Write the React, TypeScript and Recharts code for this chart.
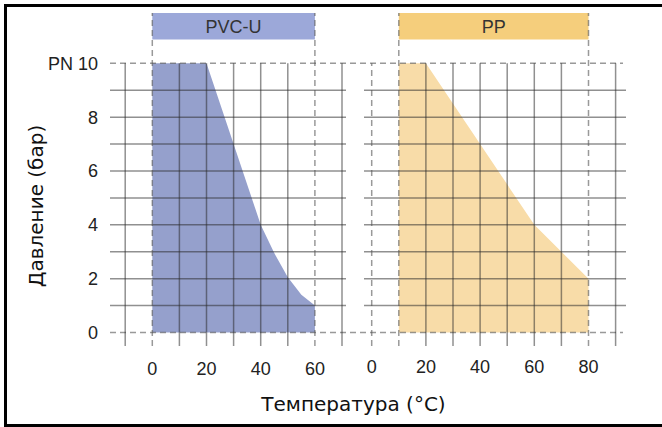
import { Area, ComposedChart, ReferenceArea, ReferenceLine, XAxis, YAxis } from "recharts";

// pressure vs temperature envelopes
const pvcTemps = [0, 20, 30, 40, 45, 50, 55, 60];
const pvcPressure = [10, 10, 7, 4, 2.95, 2.05, 1.4, 1];
const ppTemps = [10, 20, 40, 60, 70, 80];
const ppPressure = [10, 10, 7, 4, 3, 2];

const pressureTicks = [0, 2, 4, 6, 8, 10];
const gridRows = [1, 2, 3, 4, 5, 6, 7, 8, 9];
const pvcTicks = [0, 20, 40, 60];
const ppTicks = [0, 20, 40, 60, 80];
const pvcGridCols = [-10, 10, 20, 30, 40, 50, 70];
const ppGridCols = [20, 30, 40, 50, 60, 70, 90];
const ppZeroCol = [0];

const pvcData = pvcTemps.map((t, i) => ({ t, p: pvcPressure[i] }));
const ppData = ppTemps.map((t, i) => ({ t, p: ppPressure[i] }));

// layout (px)
const W = 662;
const H = 427;
const PLOT_L = 110;
const PLOT_R = 626;
const PLOT_T = 13;
const PLOT_B = 346;
const AXIS_H = 1;
const X_UNIT = 2.71;
const PVC_ZERO = 152.3;
const PP_ZERO = 371.7;
const Y_UNIT = 26.92;
const Y_ZERO = 332.5;

const pvcDomain = [(PLOT_L - PVC_ZERO) / X_UNIT, (PLOT_R - PVC_ZERO) / X_UNIT];
const ppDomain = [(PLOT_L - PP_ZERO) / X_UNIT, (PLOT_R - PP_ZERO) / X_UNIT];
const Y_MIN = -(PLOT_B - Y_ZERO) / Y_UNIT;
const Y_MAX = (Y_ZERO - PLOT_T) / Y_UNIT;
const HEADER_BOTTOM = (Y_ZERO - 39.5) / Y_UNIT;
const PVC_ROW_END = (346 - PVC_ZERO) / X_UNIT;
const PP_ROW_START = (364 - PP_ZERO) / X_UNIT;
const DASH_END = (623 - PP_ZERO) / X_UNIT;

const TOP = 10;
const SOLID = { stroke: "#2a2a2a", strokeOpacity: 0.52, strokeWidth: 1.5 };
const DASHED = { stroke: "#555", strokeOpacity: 0.6, strokeWidth: 1.5, strokeDasharray: "6 4" };

const tickFont = { fill: "#222", fontSize: 18, fontFamily: "'Liberation Sans', Arial, sans-serif" };
const titleFont = "'DejaVu Sans', Verdana, sans-serif";

export default function App() {
  const pvcFirst = pvcTemps[0];
  const pvcLast = pvcTemps[pvcTemps.length - 1];
  const ppFirst = ppTemps[0];
  const ppLast = ppTemps[ppTemps.length - 1];

  const vline = (axis: string, t: number, top: number, style: object, key: string) => (
    <ReferenceLine
      key={key}
      xAxisId={axis}
      segment={[
        { x: t, y: Y_MIN },
        { x: t, y: top },
      ]}
      ifOverflow="visible"
      {...style}
    />
  );

  return (
    <div
      style={{
        position: "absolute",
        left: 0,
        top: 0,
        width: W,
        height: H,
        overflow: "hidden",
        background: "#fff",
      }}
    >
      <div
        style={{
          position: "absolute",
          left: 4,
          top: 4,
          width: W + 20,
          height: H - 4,
          boxSizing: "border-box",
          border: "3px solid #000",
        }}
      />
      <div style={{ position: "absolute", left: 0, top: 0 }}>
        <ComposedChart
          width={W}
          height={H}
          margin={{ top: PLOT_T, right: W - PLOT_R, bottom: H - PLOT_B - 2 * AXIS_H, left: 0 }}
        >
          <XAxis
            xAxisId="pvc"
            type="number"
            dataKey="t"
            domain={pvcDomain}
            allowDataOverflow
            ticks={pvcTicks}
            height={AXIS_H}
            axisLine={false}
            tickLine={false}
            tickSize={0}
            tickMargin={15}
            tick={tickFont}
          />
          <XAxis
            xAxisId="pp"
            type="number"
            dataKey="t"
            domain={ppDomain}
            allowDataOverflow
            ticks={ppTicks}
            height={AXIS_H}
            axisLine={false}
            tickLine={false}
            tickSize={0}
            tickMargin={14}
            tick={tickFont}
          />
          <YAxis
            type="number"
            domain={[Y_MIN, Y_MAX]}
            allowDataOverflow
            ticks={pressureTicks}
            width={PLOT_L}
            axisLine={false}
            tickLine={false}
            tickSize={0}
            tickMargin={12}
            tick={tickFont}
            tickFormatter={(v: number) => (v === TOP ? "PN 10" : String(v))}
          />

          <ReferenceArea
            xAxisId="pvc"
            x1={pvcFirst}
            x2={pvcLast}
            y1={HEADER_BOTTOM}
            y2={Y_MAX}
            ifOverflow="visible"
            fill="#9ca8d9"
            fillOpacity={1}
            label={{ value: "PVC-U", position: "center", ...tickFont, fill: "#333" }}
          />
          <ReferenceArea
            xAxisId="pp"
            x1={ppFirst}
            x2={ppLast}
            y1={HEADER_BOTTOM}
            y2={Y_MAX}
            ifOverflow="visible"
            fill="#f5ce7c"
            fillOpacity={1}
            label={{ value: "PP", position: "center", ...tickFont, fill: "#333" }}
          />

          <Area
            xAxisId="pvc"
            data={pvcData}
            dataKey="p"
            type="linear"
            baseValue={0}
            stroke="none"
            fill="#95a0cc"
            fillOpacity={1}
            isAnimationActive={false}
          />
          <Area
            xAxisId="pp"
            data={ppData}
            dataKey="p"
            type="linear"
            baseValue={0}
            stroke="none"
            fill="#f8dca8"
            fillOpacity={1}
            isAnimationActive={false}
          />

          {gridRows.map((r) => (
            <ReferenceLine
              key={`pvc-row-${r}`}
              xAxisId="pvc"
              segment={[
                { x: pvcDomain[0], y: r },
                { x: PVC_ROW_END, y: r },
              ]}
              ifOverflow="visible"
              {...SOLID}
            />
          ))}
          {gridRows.map((r) => (
            <ReferenceLine
              key={`pp-row-${r}`}
              xAxisId="pp"
              segment={[
                { x: PP_ROW_START, y: r },
                { x: ppDomain[1], y: r },
              ]}
              ifOverflow="visible"
              {...SOLID}
            />
          ))}
          {[0, TOP].map((r) => (
            <ReferenceLine
              key={`dash-row-${r}`}
              xAxisId="pp"
              segment={[
                { x: ppDomain[0], y: r },
                { x: DASH_END, y: r },
              ]}
              ifOverflow="visible"
              {...DASHED}
            />
          ))}

          {pvcGridCols.map((t) => vline("pvc", t, TOP, SOLID, `pvc-col-${t}`))}
          {ppGridCols.map((t) => vline("pp", t, TOP, SOLID, `pp-col-${t}`))}
          {ppZeroCol.map((t) => vline("pp", t, TOP, DASHED, `pp-zero-${t}`))}
          {[pvcFirst, pvcLast].map((t) => vline("pvc", t, Y_MAX, DASHED, `pvc-edge-${t}`))}
          {[ppFirst, ppLast].map((t) => vline("pp", t, Y_MAX, DASHED, `pp-edge-${t}`))}
        </ComposedChart>
      </div>

      <div
        style={{
          position: "absolute",
          left: 35.5 - 100,
          top: 206 - 10,
          width: 200,
          height: 20,
          lineHeight: "20px",
          textAlign: "center",
          fontFamily: titleFont,
          fontSize: 20,
          color: "#111",
          transform: "rotate(-90deg)",
          whiteSpace: "nowrap",
        }}
      >
        Давление (бар)
      </div>
      <div
        style={{
          position: "absolute",
          left: 353.5 - 150,
          top: 403.5 - 10,
          width: 300,
          height: 20,
          lineHeight: "20px",
          textAlign: "center",
          fontFamily: titleFont,
          fontSize: 20,
          color: "#111",
          whiteSpace: "nowrap",
        }}
      >
        Температура (°C)
      </div>
    </div>
  );
}
